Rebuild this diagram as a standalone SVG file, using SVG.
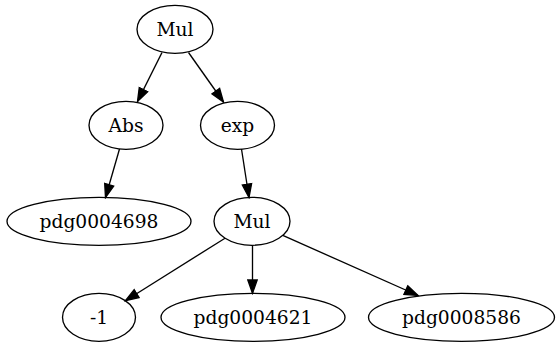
<svg xmlns="http://www.w3.org/2000/svg" width="560" height="347" viewBox="0 0 560 347">
<defs>
<style>
.node ellipse{fill:none;stroke:#000;stroke-width:1.33}
.node text{font-family:"DejaVu Serif",serif;font-size:18.67px;text-anchor:middle;fill:#000}
.edges line{stroke:#000;stroke-width:1.33}
</style>
<marker id="ah" markerUnits="userSpaceOnUse" markerWidth="16" markerHeight="12" viewBox="-1 -6 16 12" refX="13.3" refY="0" orient="auto">
<path d="M0,-4.67 L13.3,0 L0,4.67 Z" fill="#000" stroke="#000" stroke-width="1.33"/>
</marker>
</defs>
<rect width="560" height="347" fill="#fff"/>
<g class="edges">
<line x1="162" y1="52.5" x2="137.5" y2="101.5" marker-end="url(#ah)"/>
<line x1="188.5" y1="52.5" x2="223.5" y2="102" marker-end="url(#ah)"/>
<line x1="119.5" y1="149" x2="105.5" y2="197.5" marker-end="url(#ah)"/>
<line x1="241.5" y1="149" x2="249" y2="197.5" marker-end="url(#ah)"/>
<line x1="225" y1="238.2" x2="125.4" y2="300.7" marker-end="url(#ah)"/>
<line x1="252.5" y1="245.3" x2="252.5" y2="293.3" marker-end="url(#ah)"/>
<line x1="282.8" y1="235.4" x2="418" y2="295.5" marker-end="url(#ah)"/>
</g>
<g id="n_mul1" class="node"><ellipse cx="175" cy="29.3" rx="38" ry="24"/><text x="175" y="35.5">Mul</text></g>
<g id="n_abs" class="node"><ellipse cx="126" cy="125.3" rx="37" ry="24"/><text x="126" y="131.5">Abs</text></g>
<g id="n_exp" class="node"><ellipse cx="237.5" cy="125.3" rx="37" ry="24"/><text x="237.5" y="131.5">exp</text></g>
<g id="n_pdg0004698" class="node"><ellipse cx="99" cy="221.3" rx="92" ry="24"/><text x="99" y="227.5">pdg0004698</text></g>
<g id="n_mul2" class="node"><ellipse cx="252" cy="221.3" rx="38" ry="24"/><text x="252" y="227.5">Mul</text></g>
<g id="n_m1" class="node"><ellipse cx="99" cy="317.3" rx="36.5" ry="24"/><text x="99" y="323.5">-1</text></g>
<g id="n_pdg0004621" class="node"><ellipse cx="253" cy="317.3" rx="92" ry="24"/><text x="253" y="323.5">pdg0004621</text></g>
<g id="n_pdg0008586" class="node"><ellipse cx="461.5" cy="317.3" rx="93" ry="24"/><text x="461.5" y="323.5">pdg0008586</text></g>
</svg>
